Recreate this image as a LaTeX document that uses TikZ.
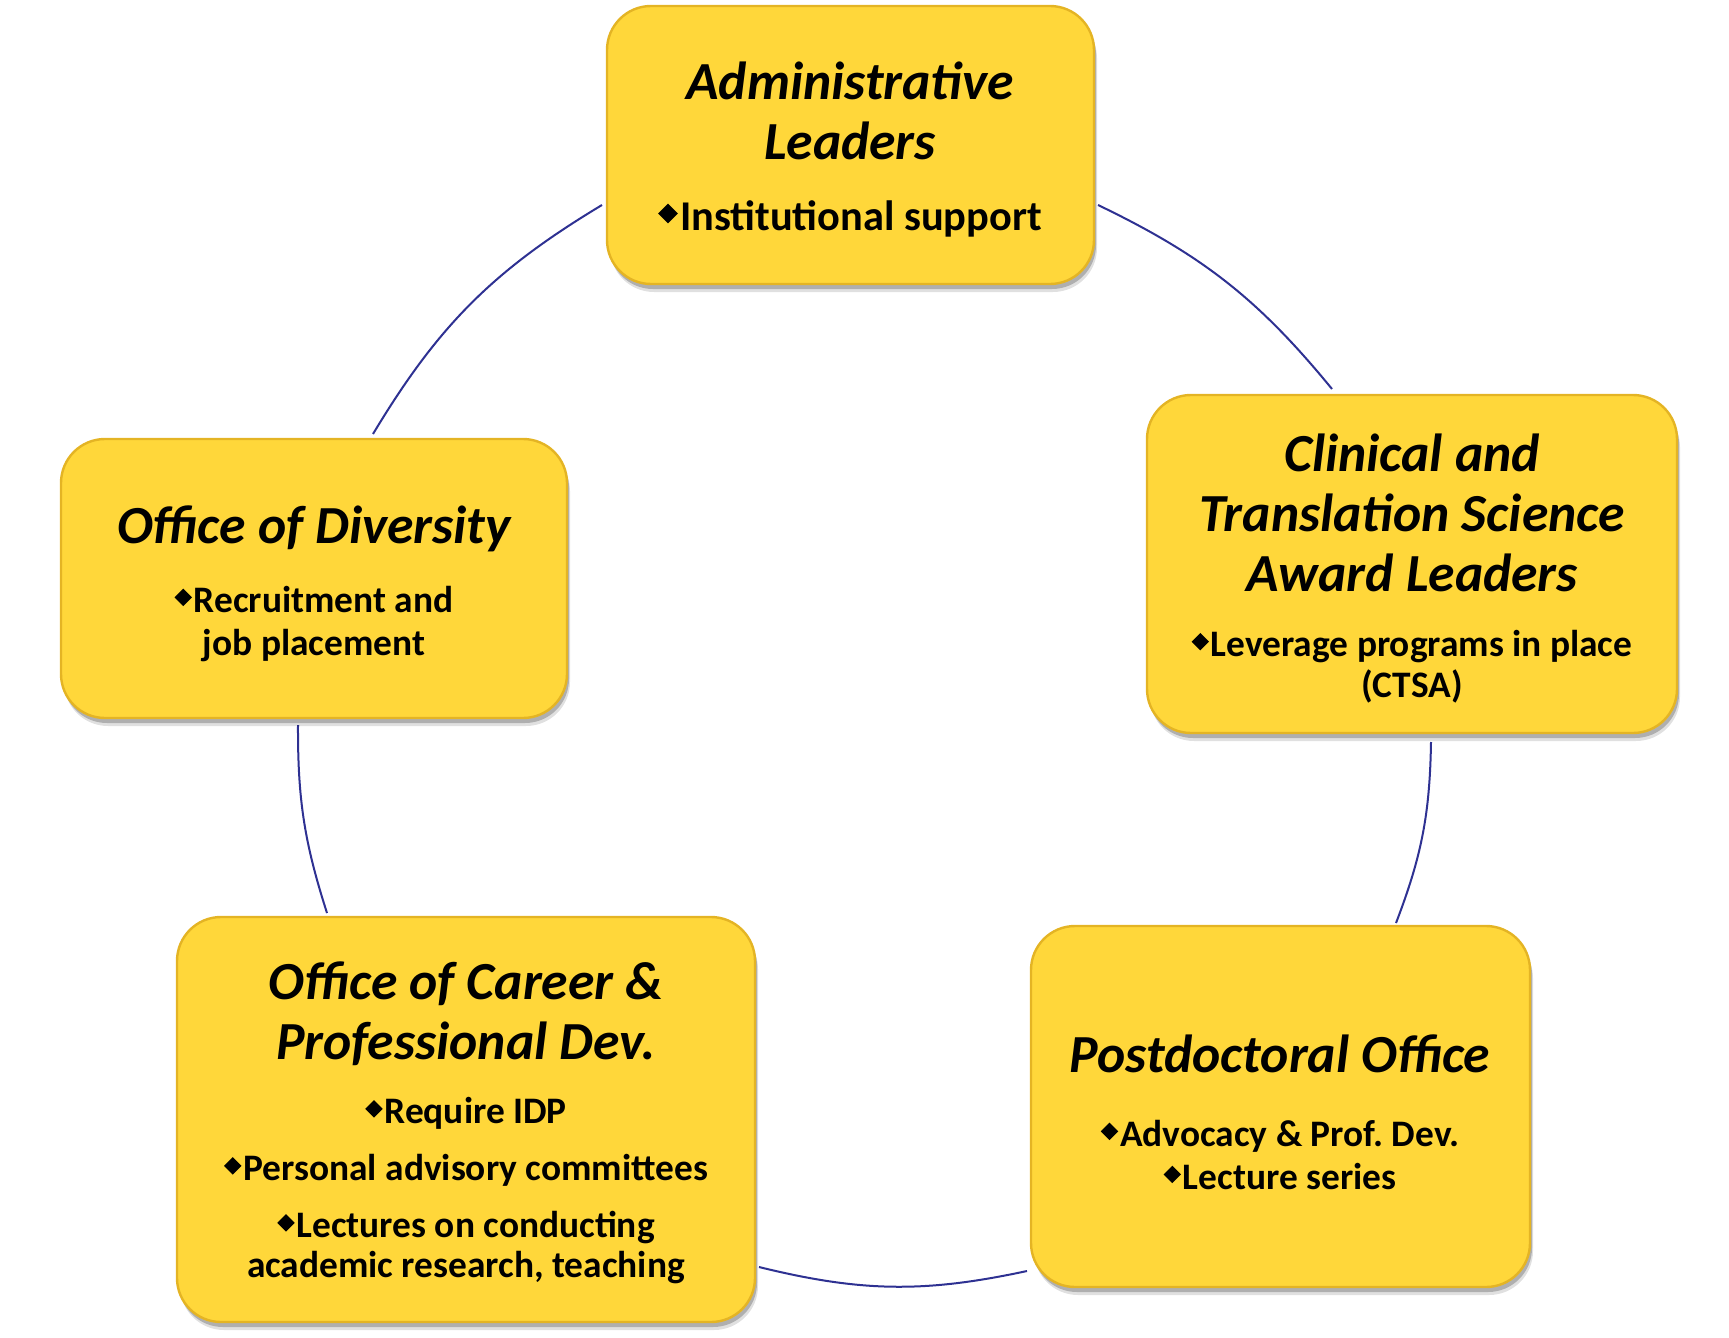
\documentclass[tikz,border=0pt]{standalone}
\usepackage{graphicx}
\usepackage{fontspec}
\setmainfont{Carlito}
\usetikzlibrary{shadows}
\definecolor{boxfill}{RGB}{255,215,58}
\definecolor{boxrim}{RGB}{228,180,36}
\definecolor{arcblue}{RGB}{46,49,146}
\newcommand\bul{\raisebox{0.17em}{\rotatebox{45}{\rule{0.33em}{0.33em}}}\hspace{0.05em}}
\frenchspacing
\begin{document}
\begin{tikzpicture}[x=0.5pt,y=-0.5pt,
  box/.style={draw=boxrim, line width=1.2pt, fill=boxfill, rounded corners=22pt,
    drop shadow={shadow xshift=1.5pt, shadow yshift=-4pt, opacity=0.12, fill=black},
    drop shadow={shadow xshift=1pt, shadow yshift=-2.5pt, opacity=0.22, fill=black}},
  ttl/.style={font=\fontsize{26.8}{30}\selectfont\bfseries\itshape, align=center, inner sep=0pt},
  bl/.style={font=\fontsize{18.7}{21.5}\selectfont\bfseries, align=center, inner sep=0pt},
  conn/.style={draw=arcblue, line width=1pt}]
\useasboundingbox (0,0) rectangle (1729,1338);
% connector end points
\coordinate (tl1) at (373,434);
\coordinate (tl2) at (602,205);
\coordinate (tr1) at (1098,205);
\coordinate (tr2) at (1332,389);
\coordinate (r1) at (1431,742);
\coordinate (r2) at (1396,923);
\coordinate (b1) at (1027,1271);
\coordinate (b2) at (759,1267);
\coordinate (l1) at (327,913);
\coordinate (l2) at (298,725);
\draw[conn] (tl1) to[bend left=14] (tl2);
\draw[conn] (tr1) to[bend left=12.5] (tr2);
\draw[conn] (r1) to[bend left=10] (r2);
\draw[conn] (b1) to[bend left=13] (b2);
\draw[conn] (l1) to[bend left=9] (l2);
% boxes
\node[box, minimum width=243.5pt, minimum height=139pt] (admin) at (850.5,145) {};
\node[box, minimum width=265pt, minimum height=169pt] (ctsa) at (1412,564) {};
\node[box, minimum width=253pt, minimum height=139.5pt] (div) at (314,578.5) {};
\node[box, minimum width=289pt, minimum height=202.5pt] (career) at (466,1119.5) {};
\node[box, minimum width=249.5pt, minimum height=180.5pt] (postdoc) at (1280.5,1106.5) {};
% texts
\node[ttl] (adminT) at (850,111) {Administrative\\Leaders};
\node[bl, font=\fontsize{21.2}{25}\selectfont\bfseries] (adminB) at (850,219) {\bul Institutional support};
\node[ttl] (ctsaT) at (1412,513) {Clinical and\\Translation Science\\Award Leaders};
\node[bl, font=\fontsize{18.7}{20.5}\selectfont\bfseries] (ctsaB) at (1412,667) {\bul Leverage programs in place\\(CTSA)};
\node[ttl] (divT) at (314,529) {Office of Diversity};
\node[bl] (divB) at (314,624) {\bul Recruitment and\\job placement};
\node[ttl] (careerT) at (466,1014) {Office of Career \&\\Professional Dev.};
\node[bl, font=\fontsize{18.7}{20}\selectfont\bfseries] (careerB) at (466,1191) {\bul Require IDP\\[8.5pt]\bul Personal advisory committees\\[8.5pt]\bul Lectures on conducting\\academic research, teaching};
\node[ttl] (postdocT) at (1280,1054) {Postdoctoral Office};
\node[bl] (postdocB) at (1280,1155) {\bul Advocacy \& Prof. Dev.\\\bul Lecture series};
\end{tikzpicture}
\end{document}
